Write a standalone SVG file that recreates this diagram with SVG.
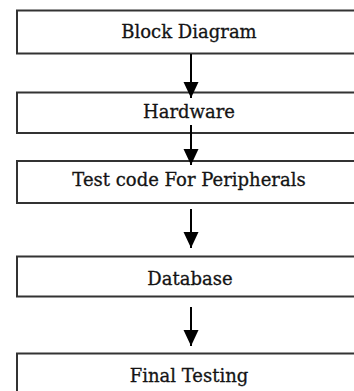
<svg xmlns="http://www.w3.org/2000/svg" width="354" height="391" viewBox="0 0 354 391">
  <style>
    .box { fill: #ffffff; stroke: #333333; stroke-width: 2; }
    .lbl { font-family: "DejaVu Serif", "Liberation Serif", serif; font-size: 18px; fill: #141414; stroke: #141414; stroke-width: 0.3; text-anchor: middle; }
    .conn { stroke: #000000; stroke-width: 2; fill: none; marker-end: url(#ah); }
  </style>
  <defs>
    <marker id="ah" markerUnits="userSpaceOnUse" markerWidth="17" markerHeight="16" viewBox="0 -8 17 16" refX="16" refY="0" orient="auto">
      <path d="M0,-7.5 L16,0 L0,7.5 Z" fill="#000000"/>
    </marker>
  </defs>
  <rect width="354" height="391" fill="#ffffff"/>
  <g id="n1"><rect class="box" x="17" y="10.5" width="360" height="43"/><text class="lbl" x="189" y="37.5">Block Diagram</text></g>
  <g id="n2"><rect class="box" x="17" y="92.5" width="360" height="40.5"/><text class="lbl" x="189" y="118">Hardware</text></g>
  <g id="n3"><rect class="box" x="17" y="161" width="360" height="42"/><text class="lbl" x="189" y="185.5">Test code For Peripherals</text></g>
  <g id="n4"><rect class="box" x="17" y="256.5" width="360" height="40"/><text class="lbl" x="190" y="285">Database</text></g>
  <g id="n5"><rect class="box" x="17" y="353.5" width="360" height="60"/><text class="lbl" x="189" y="381.5">Final Testing</text></g>
  <g id="connectors">
    <line class="conn" x1="191" y1="54" x2="191" y2="98"/>
    <line class="conn" x1="191" y1="125" x2="191" y2="165"/>
    <line class="conn" x1="191" y1="209" x2="191" y2="248"/>
    <line class="conn" x1="191" y1="307" x2="191" y2="346"/>
  </g>
</svg>
